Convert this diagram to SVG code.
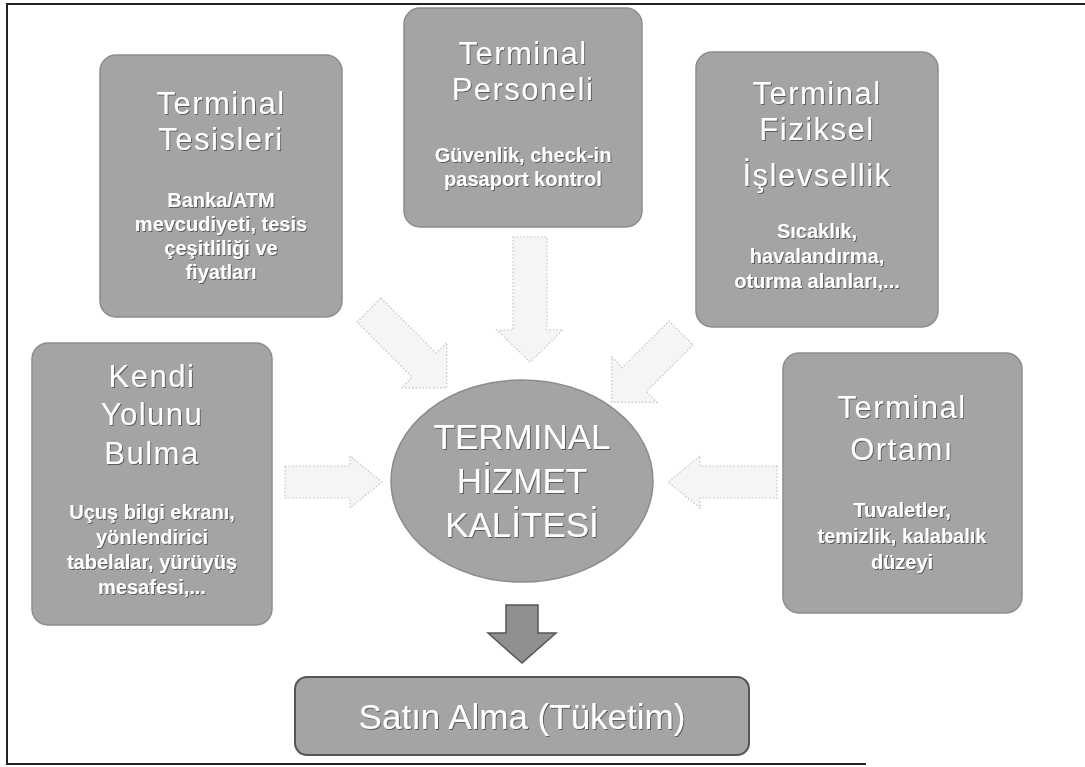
<svg xmlns="http://www.w3.org/2000/svg" width="1085" height="767" viewBox="0 0 1085 767">
<defs>
<style>
.box{fill:#a4a4a4;stroke:#8c8c8c;stroke-width:1.5}
.t{font-family:"Liberation Sans",Arial,sans-serif;font-size:31px;letter-spacing:1.5px;fill:#ffffff;text-anchor:middle;filter:url(#sh)}
.c{font-family:"Liberation Sans",Arial,sans-serif;font-size:35px;fill:#ffffff;text-anchor:middle;filter:url(#sh)}
.s{font-family:"Liberation Sans",Arial,sans-serif;font-size:20px;font-weight:bold;fill:#ffffff;text-anchor:middle;filter:url(#sh)}
.faint{fill:#f5f5f5;stroke:#c4c4c4;stroke-width:1.2;stroke-dasharray:1.5 2}
</style>
<filter id="sh" x="-10%" y="-20%" width="120%" height="140%">
<feDropShadow dx="1" dy="1" stdDeviation="0.6" flood-color="#3a3a3a" flood-opacity="0.7"/>
</filter>
</defs>
<rect x="0" y="0" width="1085" height="767" fill="#ffffff"/>
<path d="M1085,4 H7 V764 H866" fill="none" stroke="#222" stroke-width="2"/>

<g id="connectors">
<polygon class="faint" points="513,237 547,237 547,330 563,330 530,362 497,330 513,330"/>
<polygon class="faint" transform="translate(369,310) rotate(45)" points="0,-17 78,-17 78,-32 110,0 78,32 78,17 0,17"/>
<polygon class="faint" transform="translate(681,333) rotate(135)" points="0,-17 66,-17 66,-32 98,0 66,32 66,17 0,17"/>
<polygon class="faint" points="285,466 350,466 350,456 382,482 350,508 350,498 285,498"/>
<polygon class="faint" points="777,466 700,466 700,456 668,482 700,508 700,498 777,498"/>
<polygon points="506,605 538,605 538,633 556,633 522,663 488,633 506,633" fill="#909090" stroke="#555" stroke-width="1.5"/>
</g>

<g id="node-tesisleri">
<rect class="box" x="100" y="55" width="242" height="262" rx="16"/>
<text class="t" x="221" y="114">Terminal</text>
<text class="t" x="221" y="150">Tesisleri</text>
<text class="s" x="221" y="207">Banka/ATM</text>
<text class="s" x="221" y="231">mevcudiyeti, tesis</text>
<text class="s" x="221" y="255">çeşitliliği ve</text>
<text class="s" x="221" y="279">fiyatları</text>
</g>

<g id="node-personeli">
<rect class="box" x="404" y="8" width="238" height="219" rx="16"/>
<text class="t" x="523" y="64">Terminal</text>
<text class="t" x="523" y="100">Personeli</text>
<text class="s" x="523" y="162">Güvenlik, check-in</text>
<text class="s" x="523" y="186">pasaport kontrol</text>
</g>

<g id="node-fiziksel">
<rect class="box" x="696" y="52" width="242" height="275" rx="16"/>
<text class="t" x="817" y="104">Terminal</text>
<text class="t" x="817" y="140">Fiziksel</text>
<text class="t" x="817" y="186">İşlevsellik</text>
<text class="s" x="817" y="238">Sıcaklık,</text>
<text class="s" x="817" y="263">havalandırma,</text>
<text class="s" x="817" y="288">oturma alanları,...</text>
</g>

<g id="node-kendi">
<rect class="box" x="32" y="343" width="240" height="282" rx="16"/>
<text class="t" x="152" y="387">Kendi</text>
<text class="t" x="152" y="425">Yolunu</text>
<text class="t" x="152" y="464">Bulma</text>
<text class="s" x="152" y="519">Uçuş bilgi ekranı,</text>
<text class="s" x="152" y="544">yönlendirici</text>
<text class="s" x="152" y="569">tabelalar, yürüyüş</text>
<text class="s" x="152" y="594">mesafesi,...</text>
</g>

<g id="node-ortami">
<rect class="box" x="783" y="353" width="239" height="260" rx="16"/>
<text class="t" x="902" y="418">Terminal</text>
<text class="t" x="902" y="460">Ortamı</text>
<text class="s" x="902" y="517">Tuvaletler,</text>
<text class="s" x="902" y="543">temizlik, kalabalık</text>
<text class="s" x="902" y="569">düzeyi</text>
</g>

<g id="node-center">
<ellipse cx="522" cy="481" rx="131" ry="101" fill="#a4a4a4" stroke="#8c8c8c" stroke-width="1.5"/>
<text class="c" x="522" y="449">TERMINAL</text>
<text class="c" x="522" y="493">HİZMET</text>
<text class="c" x="522" y="537">KALİTESİ</text>
</g>

<g id="node-satin">
<rect x="295" y="677" width="454" height="78" rx="12" fill="#a4a4a4" stroke="#555" stroke-width="2"/>
<text class="c" x="522" y="729">Satın Alma (Tüketim)</text>
</g>
</svg>
